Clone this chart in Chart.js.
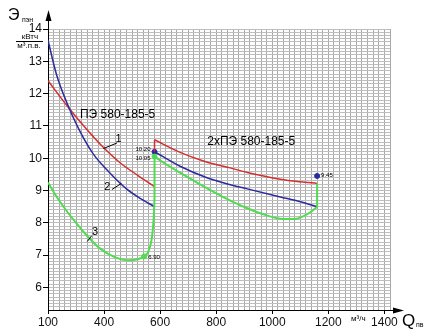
<!DOCTYPE html>
<html>
<head>
<meta charset="utf-8">
<script src="https://cdn.jsdelivr.net/npm/chart.js@4/dist/chart.umd.min.js"></script>
<style>
  html, body { margin: 0; padding: 0; background: #fff; }
  canvas { display: block; }
</style>
</head>
<body>
<canvas id="chart" width="441" height="336"></canvas>
<script>
// Подача Q (м3/ч) и удельный расход Э (кВтч/м3)
// один насос ПЭ 580-185-5
const qRed1 = [200, 270, 330, 390, 457, 520, 580];
const eRed1 = [12.4, 11.6, 10.97, 10.4, 9.86, 9.47, 9.12];
const qBlue1 = [200, 230, 268, 310, 360, 420, 480, 530, 580];
const eBlue1 = [13.65, 12.6, 11.7, 10.9, 10.15, 9.55, 9.05, 8.75, 8.5];
const qGreen1 = [200, 235, 268, 300, 339, 386, 440, 486, 520, 543, 557, 568, 574, 578, 580];
const eGreen1 = [9.25, 8.75, 8.35, 8.0, 7.6, 7.2, 6.93, 6.84, 6.87, 6.96, 7.09, 7.4, 7.8, 8.3, 8.8];

// два насоса 2хПЭ 580-185-5
const qRed2 = [580, 671, 760, 850, 911, 1029, 1100, 1160];
const eRed2 = [10.57, 10.18, 9.9, 9.7, 9.56, 9.35, 9.27, 9.22];
const qBlue2 = [580, 671, 760, 850, 911, 1029, 1100, 1160];
const eBlue2 = [10.2, 9.75, 9.42, 9.18, 9.05, 8.8, 8.65, 8.5];
const qGreen2 = [580, 620, 671, 740, 820, 911, 980, 1039, 1080, 1110, 1140, 1160];
const eGreen2 = [10.05, 9.82, 9.55, 9.2, 8.82, 8.45, 8.23, 8.12, 8.12, 8.2, 8.35, 8.5];

// вертикальные переходы
const qRedJump = [580, 580];
const eRedJump = [10.2, 10.57];
const qGreenJump = [580, 580];
const eGreenJump = [8.8, 10.05];
const qGreenEnd = [1160, 1160];
const eGreenEnd = [8.5, 9.22];

// отмеченные точки
const qDots = [580, 580, 543, 1160];
const eDots = [10.2, 10.05, 6.96, 9.45];
const dotLabels = ['10.20', '10.05', '6.90', '9.45'];

// подписи осей
const xTickValues = [200, 400, 600, 800, 1000, 1200, 1400];
const xTickLabels = ['100', '400', '600', '800', '1000', '1200', '1400'];
const yTickLabels = [6, 7, 8, 9, 10, 11, 12, 13, 14];

const RED = '#d42f2f';
const BLUE = '#2b2ba0';
const GREEN = '#4fdc4f';
const FONT = '"Liberation Sans", Arial, sans-serif';

function pts(q, e) {
  return q.map((x, i) => ({ x: x, y: e[i] }));
}

function curve(q, e, color, width, smooth) {
  return {
    type: 'line',
    data: pts(q, e),
    borderColor: color,
    borderWidth: width,
    pointRadius: 0,
    fill: false,
    tension: smooth ? 0.4 : 0,
    cubicInterpolationMode: smooth ? 'monotone' : 'default'
  };
}

const dotColors = [BLUE, GREEN, GREEN, BLUE];

function isXLabel(v) { return xTickValues.indexOf(Math.round(v)) >= 0; }
function isYLabel(v) { return yTickLabels.indexOf(Math.round(v * 10) / 10) >= 0; }

// оформление: стрелки осей, подписи, выноски
const decor = {
  id: 'decor',
  afterDraw(chart) {
    const c = chart.ctx;
    const xs = chart.scales.x, ys = chart.scales.y;
    const a = chart.chartArea;
    const X = v => xs.getPixelForValue(v);
    const Y = v => ys.getPixelForValue(v);
    c.save();

    // стрелки
    c.strokeStyle = '#000';
    c.fillStyle = '#000';
    c.lineWidth = 1;
    c.beginPath();
    c.moveTo(a.left + 0.5, a.top);
    c.lineTo(a.left + 0.5, 14);
    c.moveTo(a.right, a.bottom + 0.5);
    c.lineTo(a.right + 8, a.bottom + 0.5);
    c.stroke();
    c.beginPath();
    c.moveTo(a.left + 0.5, 10);
    c.lineTo(a.left - 2.5, 21);
    c.lineTo(a.left + 3.5, 21);
    c.closePath();
    c.fill();
    c.beginPath();
    c.moveTo(a.right + 14, a.bottom + 0.5);
    c.lineTo(a.right + 3, a.bottom - 2.5);
    c.lineTo(a.right + 3, a.bottom + 3.5);
    c.closePath();
    c.fill();

    // обозначение оси Y
    c.textBaseline = 'middle';
    c.textAlign = 'left';
    c.font = '16px ' + FONT;
    c.fillText('Э', 8, 16);
    c.font = '7px ' + FONT;
    c.fillText('пэн', 22, 20);
    c.textAlign = 'center';
    c.font = '8px ' + FONT;
    c.fillText('кВтч', 30, 37);
    c.fillText('м³.п.в.', 29, 46);
    c.beginPath();
    c.moveTo(16, 41.5);
    c.lineTo(43, 41.5);
    c.stroke();

    // обозначение оси X
    c.font = '8px ' + FONT;
    c.fillText('м³/ч', X(1300) + 2, a.bottom + 9);
    c.textAlign = 'left';
    c.font = '17px ' + FONT;
    c.fillText('Q', a.right + 12, a.bottom + 11);
    c.font = '7px ' + FONT;
    c.fillText('пв', a.right + 26, a.bottom + 15);

    // названия
    c.font = '12px ' + FONT;
    c.fillText('ПЭ 580-185-5', X(314), Y(11.35));
    c.fillText('2хПЭ 580-185-5', X(768), Y(10.51));

    // номера кривых с выносками
    c.font = '11px ' + FONT;
    c.textAlign = 'center';
    c.fillText('1', X(452), Y(10.6));
    c.fillText('2', X(412), Y(9.1));
    c.fillText('3', X(368), Y(7.72));
    c.beginPath();
    c.moveTo(X(446), Y(10.47)); c.lineTo(X(398), Y(10.3));
    c.moveTo(X(428), Y(9.03)); c.lineTo(X(462), Y(9.22));
    c.moveTo(X(356), Y(7.6)); c.lineTo(X(340), Y(7.42));
    c.stroke();

    // значения точек
    c.font = '6px ' + FONT;
    c.textAlign = 'right';
    c.fillText(dotLabels[0], X(qDots[0]) - 4, Y(eDots[0]) - 2);
    c.fillText(dotLabels[1], X(qDots[1]) - 4, Y(eDots[1]) + 2);
    c.textAlign = 'left';
    c.fillText(dotLabels[2], X(qDots[2]) + 4, Y(eDots[2]) + 1);
    c.fillText(dotLabels[3], X(qDots[3]) + 4, Y(eDots[3]) - 1);
    c.restore();
  }
};

new Chart(document.getElementById('chart'), {
  type: 'line',
  data: {
    datasets: [
      curve(qGreen1, eGreen1, GREEN, 2, true),
      curve(qGreenJump, eGreenJump, GREEN, 2, false),
      curve(qGreen2, eGreen2, GREEN, 2, true),
      curve(qGreenEnd, eGreenEnd, GREEN, 2, false),
      curve(qBlue1, eBlue1, BLUE, 1.5, true),
      curve(qBlue2, eBlue2, BLUE, 1.5, true),
      curve(qRed1, eRed1, RED, 1.5, true),
      curve(qRed2, eRed2, RED, 1.5, true),
      curve(qRedJump, eRedJump, RED, 1.5, false),
      {
        type: 'scatter',
        data: pts(qDots, eDots),
        pointRadius: 2.5,
        pointBackgroundColor: dotColors,
        pointBorderColor: dotColors,
        showLine: false
      }
    ]
  },
  options: {
    responsive: false,
    animation: false,
    layout: { padding: { top: 29, right: 51, left: 0, bottom: 0 } },
    plugins: { legend: { display: false }, tooltip: { enabled: false } },
    scales: {
      x: {
        type: 'linear',
        min: 200,
        max: 1420,
        afterFit: s => { s.height = 26; },
        border: { color: '#000', width: 1 },
        grid: {
          color: '#a8a8a8',
          lineWidth: 1,
          tickLength: 4,
          tickColor: ctx => isXLabel(ctx.tick.value) ? '#000' : 'rgba(0,0,0,0)'
        },
        ticks: {
          stepSize: 20,
          autoSkip: false,
          maxRotation: 0,
          padding: 1,
          color: '#111',
          font: { family: FONT, size: 12 },
          callback: v => {
            const i = xTickValues.indexOf(Math.round(v));
            return i >= 0 ? xTickLabels[i] : '';
          }
        }
      },
      y: {
        type: 'linear',
        min: 5.3,
        max: 14,
        afterFit: s => { s.width = 48; },
        border: { color: '#000', width: 1 },
        grid: {
          color: '#bdbdbd',
          lineWidth: 1,
          tickLength: 5,
          tickColor: ctx => isYLabel(ctx.tick.value) ? '#000' : 'rgba(0,0,0,0)'
        },
        ticks: {
          stepSize: 0.1,
          autoSkip: false,
          padding: 1,
          color: '#111',
          font: { family: FONT, size: 12 },
          callback: v => isYLabel(v) ? String(Math.round(v)) : ''
        }
      }
    }
  },
  plugins: [decor]
});
</script>
</body>
</html>
